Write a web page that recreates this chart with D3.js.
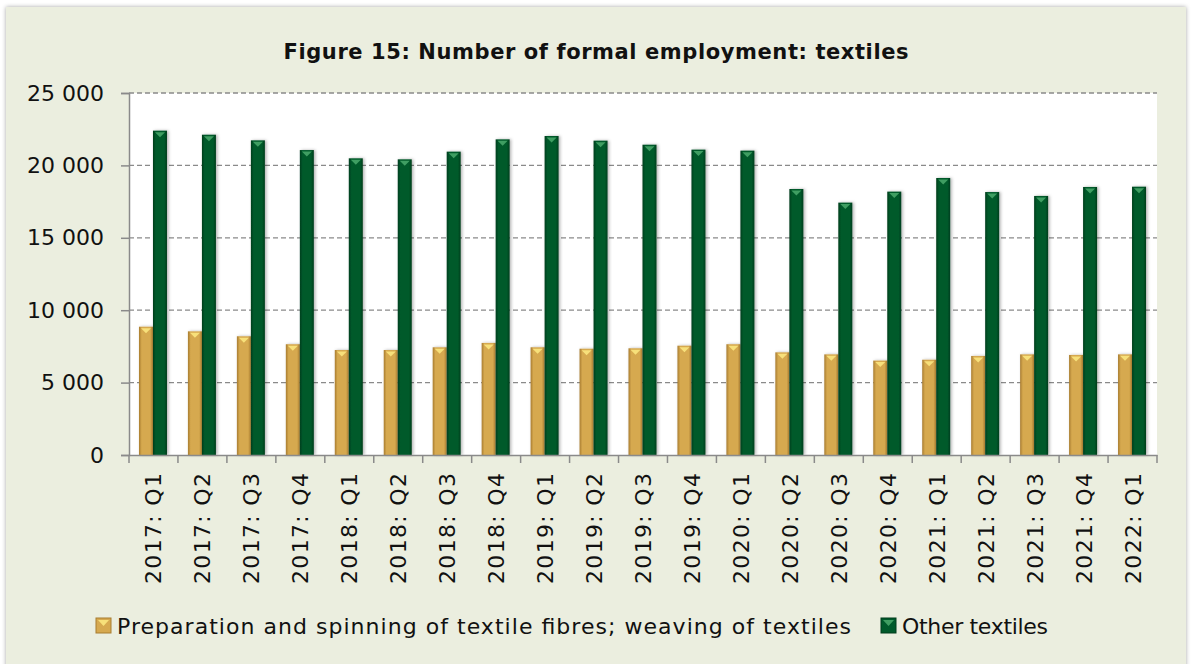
<!DOCTYPE html>
<html>
<head>
<meta charset="utf-8">
<script src="https://cdn.jsdelivr.net/npm/d3@7"></script>
<style>
  body { margin: 0; background: #ffffff; }
  svg { display: block; font-family: "DejaVu Sans", sans-serif; }
</style>
</head>
<body>
<svg id="chart"></svg>
<script>
var quarters = ["2017: Q1", "2017: Q2", "2017: Q3", "2017: Q4",
                "2018: Q1", "2018: Q2", "2018: Q3", "2018: Q4",
                "2019: Q1", "2019: Q2", "2019: Q3", "2019: Q4",
                "2020: Q1", "2020: Q2", "2020: Q3", "2020: Q4",
                "2021: Q1", "2021: Q2", "2021: Q3", "2021: Q4",
                "2022: Q1"]

var spinning = [8860, 8540, 8200, 7650, 7250, 7250, 7440, 7740,
                7440, 7340, 7370, 7550, 7650, 7090, 6950, 6520,
                6580, 6840, 6950, 6910, 6950]

var other = [22400, 22120, 21730, 21060, 20490, 20420, 20950, 21800,
             22030, 21710, 21430, 21090, 21020, 18370, 17430, 18190,
             19130, 18160, 17890, 18510, 18530]

var seriesNames = ["Preparation and spinning of textile fibres; weaving of textiles", "Other textiles"]
var yTicks = [0, 5000, 10000, 15000, 20000, 25000]

var dimensions = {
    width: 1192,
    height: 664,
    margin: { top: 93, bottom: 209, right: 35, left: 129 }
}

var svg = d3.select("#chart")
            .attr("width", dimensions.width)
            .attr("height", dimensions.height)

var defs = svg.append("defs")

function barGradient(id, edge, mid) {
    var g = defs.append("linearGradient").attr("id", id)
                .attr("x1", "0%").attr("x2", "100%").attr("y1", "0%").attr("y2", "0%")
    g.append("stop").attr("offset", "0%").attr("stop-color", edge)
    g.append("stop").attr("offset", "20%").attr("stop-color", mid)
    g.append("stop").attr("offset", "80%").attr("stop-color", mid)
    g.append("stop").attr("offset", "100%").attr("stop-color", edge)
}
barGradient("gradOrange", "#a87c30", "#d6a94f")
barGradient("gradGreen", "#003d1c", "#005a2b")

var shadow = defs.append("filter").attr("id", "shadow")
                 .attr("x", "-30%").attr("y", "-5%").attr("width", "160%").attr("height", "110%")
shadow.append("feDropShadow").attr("dx", 1.5).attr("dy", 0).attr("stdDeviation", 1.5)
      .attr("flood-color", "#000").attr("flood-opacity", 0.3)

var panelShadow = defs.append("filter").attr("id", "panelShadow")
                      .attr("x", "-2%").attr("y", "-2%").attr("width", "104%").attr("height", "104%")
panelShadow.append("feDropShadow").attr("dx", 0).attr("dy", 0).attr("stdDeviation", 2)
           .attr("flood-color", "#000").attr("flood-opacity", 0.35)

// background panel
svg.append("rect")
   .attr("x", 6).attr("y", 7)
   .attr("width", 1180).attr("height", 680)
   .attr("fill", "#ebeedf")
   .attr("filter", "url(#panelShadow)")

var x0 = d3.scaleBand()
           .domain(quarters)
           .range([dimensions.margin.left, dimensions.width - dimensions.margin.right])

var x1 = d3.scaleBand()
           .domain([0, 1])
           .range([0, 28])

var yScale = d3.scaleLinear()
               .domain([0, 25000])
               .range([dimensions.height - dimensions.margin.bottom, dimensions.margin.top])

// plot area
svg.append("rect")
   .attr("x", x0.range()[0]).attr("y", yScale(25000))
   .attr("width", x0.range()[1] - x0.range()[0])
   .attr("height", yScale(0) - yScale(25000))
   .attr("fill", "#ffffff")

// gridlines
svg.append("g")
   .selectAll("line")
   .data(yTicks.filter(d => d > 0))
   .enter()
   .append("line")
   .attr("x1", x0.range()[0]).attr("x2", x0.range()[1])
   .attr("y1", d => yScale(d)).attr("y2", d => yScale(d))
   .attr("stroke", "#8a8a8a")
   .attr("stroke-width", 1.3)
   .attr("stroke-dasharray", "5,3")

var rows = quarters.map((q, i) => ({ q: q, vals: [spinning[i], other[i]] }))
var fills = ["url(#gradOrange)", "url(#gradGreen)"]
var tips = ["#f7e07a", "#3f9e62"]

var groups = svg.append("g")
                .selectAll("g")
                .data(rows)
                .enter()
                .append("g")
                .attr("transform", d => `translate(${x0(d.q) + x0.bandwidth() / 2 - 14.5},0)`)

var bars = groups.selectAll("g")
                 .data(d => d.vals.map((v, k) => ({ k: k, v: v })))
                 .enter()
                 .append("g")

bars.append("rect")
    .attr("x", d => x1(d.k))
    .attr("width", x1.bandwidth())
    .attr("y", d => yScale(d.v))
    .attr("height", d => yScale(0) - yScale(d.v))
    .attr("fill", (d) => fills[d.k])
    .attr("filter", "url(#shadow)")

bars.append("path")
    .attr("d", d => {
        var l = x1(d.k) + 2, r = x1(d.k) + x1.bandwidth() - 2, t = yScale(d.v) + 1.5
        return `M${l},${t}L${r},${t}L${(l + r) / 2},${t + 5}Z`
    })
    .attr("fill", d => tips[d.k])

// y axis
var yAxisGen = d3.axisLeft(yScale)
                 .tickValues(yTicks)
                 .tickSize(8)
                 .tickPadding(17)
                 .tickFormat(d => d3.format(",")(d).replace(/,/g, " "))

var yAxis = svg.append("g")
               .attr("transform", `translate(${dimensions.margin.left},0)`)
               .call(yAxisGen)

yAxis.select(".domain").attr("stroke", "#8a8a8a").attr("stroke-width", 1.5)
yAxis.selectAll(".tick line").attr("stroke", "#8a8a8a").attr("stroke-width", 1.5)
yAxis.selectAll(".tick text")
     .attr("fill", "#111")
     .style("font-size", "22px")
     .style("font-family", "DejaVu Sans, sans-serif")

// x axis
var xAxisGen = d3.axisBottom(x0).tickSize(0).tickFormat("")
var xAxis = svg.append("g")
               .attr("transform", `translate(0,${yScale(0)})`)
               .call(xAxisGen)
xAxis.select(".domain").attr("stroke", "#8a8a8a").attr("stroke-width", 1.5)

svg.append("g")
   .selectAll("line")
   .data(d3.range(quarters.length + 1))
   .enter()
   .append("line")
   .attr("x1", i => x0.range()[0] + i * x0.step())
   .attr("x2", i => x0.range()[0] + i * x0.step())
   .attr("y1", yScale(0))
   .attr("y2", yScale(0) + 8)
   .attr("stroke", "#8a8a8a")
   .attr("stroke-width", 1.5)

svg.append("g")
   .selectAll("text")
   .data(quarters)
   .enter()
   .append("text")
   .text(d => d)
   .attr("transform", d => `translate(${x0(d) + x0.bandwidth() / 2 + 8},${yScale(0) + 18}) rotate(-90)`)
   .attr("text-anchor", "end")
   .attr("fill", "#111")
   .attr("textLength", 111)
   .attr("lengthAdjust", "spacing")
   .style("font-size", "22px")

// title
svg.append("text")
   .text("Figure 15: Number of formal employment: textiles")
   .attr("x", 596)
   .attr("y", 59)
   .attr("text-anchor", "middle")
   .attr("fill", "#111")
   .attr("textLength", 625)
   .attr("lengthAdjust", "spacing")
   .style("font-size", "21px")
   .style("font-weight", "bold")

// legend
var legendX = [96, 881]
var legendWidths = [734, 146]
var legendColors = [["#a87c30", "#d6a94f", "#f7e07a"], ["#003d1c", "#005a2b", "#3f9e62"]]

var legend = svg.append("g")
                .selectAll("g")
                .data(seriesNames)
                .enter()
                .append("g")
                .attr("transform", (d, i) => `translate(${legendX[i]},618)`)

legend.append("rect")
      .attr("width", 15).attr("height", 15)
      .attr("fill", (d, i) => legendColors[i][1])
      .attr("stroke", (d, i) => legendColors[i][0])
      .attr("stroke-width", 1)

legend.append("path")
      .attr("d", "M2,2L13,2L7.5,8Z")
      .attr("fill", (d, i) => legendColors[i][2])

legend.append("text")
      .text(d => d)
      .attr("x", 21)
      .attr("y", 16)
      .attr("fill", "#111")
      .attr("textLength", (d, i) => legendWidths[i])
      .attr("lengthAdjust", "spacing")
      .style("font-size", "22px")
</script>
</body>
</html>
